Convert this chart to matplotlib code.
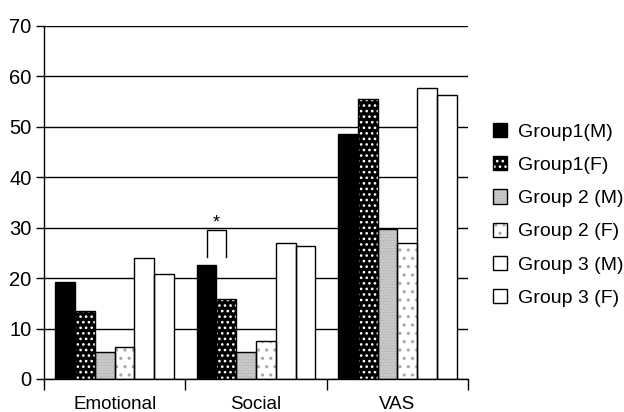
import matplotlib
matplotlib.use("Agg")
import matplotlib.pyplot as plt
import numpy as np
from matplotlib.legend_handler import HandlerTuple

plt.rcParams['font.family'] = ['Liberation Sans', 'DejaVu Sans']

categories = ["Emotional", "Social", "VAS"]
series_labels = ["Group1(M)", "Group1(F)", "Group 2 (M)", "Group 2 (F)",
                 "Group 3 (M)", "Group 3 (F)"]
group1_m = [19.2, 22.6, 48.6]
group1_f = [13.5, 15.9, 55.5]
group2_m = [5.4, 5.3, 29.7]
group2_f = [6.3, 7.6, 27.0]
group3_m = [24.0, 27.0, 57.8]
group3_f = [20.8, 26.4, 56.4]
series_values = [group1_m, group1_f, group2_m, group2_f, group3_m, group3_f]

# fill style per series: (face colour, hatch colour, hatch pattern)
styles = [
    ("black", "black", None),
    ("black", "white", "..."),
    ("#b9b9b9", "#d6d6d6", "......"),
    ("white", "#a8a8a8", ".."),
    ("white", "white", None),
    ("white", "white", None),
]

plt.rcParams['hatch.linewidth'] = 1.1

fig = plt.figure(figsize=(6.24, 4.12), dpi=100)
ax = fig.add_axes([0.0705, 0.0801, 0.6795, 0.8568])

x = np.arange(len(categories))
width = 0.14
handles = []
for i, (vals, (fc, hc, hatch)) in enumerate(zip(series_values, styles)):
    pos = x + (i - 2.5) * width
    fill = ax.bar(pos, vals, width, color=fc, edgecolor=hc, hatch=hatch,
                  linewidth=0, zorder=2)
    outline = ax.bar(pos, vals, width, fill=False, edgecolor="black",
                     linewidth=1.0, zorder=3)
    handles.append((fill.patches[0], outline.patches[0]))

# significance bracket between Group1(M) and Group1(F) on Social
bx0 = x[1] - 2.5 * width
bx1 = x[1] - 1.5 * width
ax.plot([bx0, bx0, bx1, bx1], [24.2, 29.6, 29.6, 24.2], color="black",
        linewidth=1.0, zorder=4)
ax.text((bx0 + bx1) / 2, 29.3, "*", ha="center", va="bottom", fontsize=13)

ax.set_xlim(-0.5, 2.5)
ax.set_ylim(0, 70)
ax.set_yticks(np.arange(0, 71, 10))
ax.yaxis.grid(True, color="black", linewidth=1.0)
ax.set_axisbelow(True)

ax.set_xticks([-0.5, 0.5, 1.5, 2.5])
ax.set_xticklabels([])
ax.set_xticks(x, minor=True)
ax.set_xticklabels(categories, minor=True, fontsize=13.5)
ax.tick_params(axis="x", which="minor", length=0, pad=12)
ax.tick_params(axis="x", which="major", length=8, width=1.0, direction="out")
ax.tick_params(axis="y", length=6, width=1.0, pad=3, labelsize=14.5)

for s in ("top", "right"):
    ax.spines[s].set_visible(False)
for s in ("left", "bottom"):
    ax.spines[s].set_linewidth(1.0)

ax.legend(handles, series_labels, loc="center left",
          bbox_to_anchor=(1.035, 0.465), frameon=False, fontsize=14,
          handlelength=0.75, handleheight=0.75, handletextpad=0.55,
          labelspacing=0.79, borderpad=0,
          handler_map={tuple: HandlerTuple(ndivide=1)})

fig.savefig("out.png", dpi=100)
